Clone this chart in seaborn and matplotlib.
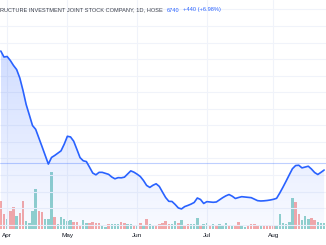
import numpy as np
import pandas as pd
import matplotlib
matplotlib.use("Agg")
import matplotlib.pyplot as plt
import seaborn as sns
from matplotlib.patches import Polygon
from matplotlib.colors import to_rgba

# ---------------- data ----------------
close = [13490, 13130, 13160, 12920, 12620, 12370, 11860, 11110, 10260, 9630,
         8990, 8760, 8240, 7720, 7190, 6660, 7060, 7180, 7320, 7460,
         7860, 8340, 8300, 8040, 7550, 7050, 6860, 6810, 6470, 6120,
         6010, 6160, 6160, 6100, 6040, 5880, 5770, 5840, 5830, 5870,
         6060, 6250, 6170, 6050, 5910, 5670, 5370, 5250, 5380, 5470,
         5310, 4970, 4640, 4410, 4400, 4220, 4010, 3950, 4090, 4160,
         4240, 4340, 4610, 4520, 4280, 4390, 4370, 4350, 4370, 4500,
         4630, 4740, 4820, 4720, 4580, 4640, 4690, 4670, 4650, 4630,
         4540, 4450, 4430, 4440, 4460, 4490, 4530, 4590, 4910, 5260,
         5630, 6010, 6380, 6570, 6590, 6430, 6480, 6530, 6360, 6150,
         6030, 6160, 6300]

volume = [560000, 294000, 200000, 366000, 434000, 260000, 314000, 560000, 160000, 114000,
          366000, 794000, 366000, 346000, 200000, 200000, 1134000, 246000, 100000, 246000,
          194000, 160000, 180000, 134000, 134000, 66000, 180000, 114000, 114000, 134000,
          126000, 114000, 66000, 46000, 94000, 94000, 94000, 94000, 146000, 114000,
          100000, 94000, 66000, 80000, 114000, 80000, 194000, 100000, 66000, 66000,
          94000, 114000, 166000, 94000, 100000, 160000, 114000, 180000, 60000, 94000,
          94000, 100000, 214000, 80000, 100000, 114000, 66000, 100000, 80000, 100000,
          80000, 114000, 80000, 66000, 80000, 134000, 60000, 46000, 60000, 94000,
          94000, 66000, 80000, 60000, 66000, 66000, 60000, 66000, 294000, 114000,
          94000, 134000, 614000, 534000, 294000, 180000, 260000, 194000, 214000, 180000,
          146000, 126000, 114000]

direction = ["down", "down", "up", "down", "down", "up", "down", "down", "up", "up",
             "up", "up", "down", "down", "up", "up", "up", "down", "up", "up",
             "up", "up", "up", "down", "down", "down", "up", "up", "down", "down",
             "down", "down", "up", "up", "down", "up", "up", "up", "down", "down",
             "up", "up", "down", "up", "down", "up", "down", "up", "up", "down",
             "down", "down", "down", "down", "up", "up", "down", "up", "down", "down",
             "up", "up", "up", "down", "up", "up", "down", "up", "down", "up",
             "up", "up", "down", "up", "down", "down", "up", "up", "down", "down",
             "down", "down", "up", "down", "down", "down", "down", "up", "up", "up",
             "up", "up", "up", "down", "down", "up", "up", "up", "down", "down",
             "up", "up", "up"]

month_pos = [2, 21, 43, 65, 86]
month_labels = ["Apr", "May", "Jun", "Jul", "Aug"]

title_text = "RUCTURE INVESTMENT JOINT STOCK COMPANY, 1D, HOSE"
last_price = 6740
change = 440
change_pct = 6.98

# ---------------- styling ----------------
sns.set_theme(style="white")
plt.rcParams["font.family"] = ["Liberation Sans", "DejaVu Sans"]

LINE = "#2962FF"
UP = "#92D2CC"
DOWN = "#F7A9A7"
GRID = "#F0F3FA"
TEXT = "#131722"

df = pd.DataFrame({"idx": np.arange(len(close)), "close": close,
                   "volume": volume, "dir": direction})

W, H = 326, 245
fig = plt.figure(figsize=(W / 100, H / 100), dpi=100)
fig.patch.set_facecolor("white")
ax = fig.add_axes([0, 16 / H, 1, 229 / H])
ax2 = ax.twinx()

px_per_bar = 3.17
x_left = -0.8 / px_per_bar
x_right = x_left + W / px_per_bar
ymin, ymax = 2737, 16574
vmax = 229 * 20000

# volume bars
sns.barplot(data=df, x="idx", y="volume", hue="dir",
            palette={"up": UP, "down": DOWN}, native_scale=True,
            dodge=False, width=0.78, legend=False, saturation=1,
            linewidth=0, ax=ax2)
ax2.set_ylim(0, vmax)
ax2.set_xlim(x_left, x_right)
ax2.axis("off")

# price area with gradient
ax.set_zorder(ax2.get_zorder() + 1)
ax.patch.set_visible(False)
xs = df["idx"].to_numpy()
ys = df["close"].to_numpy()
verts = [(xs[0], ymin)] + list(zip(xs, ys)) + [(xs[-1], ymin)]
poly = Polygon(verts, closed=True, facecolor="none", edgecolor="none")
ax.add_patch(poly)
g = np.linspace(1, 0, 256).reshape(-1, 1)
rgba = np.zeros((256, 1, 4))
rgba[..., :3] = to_rgba(LINE)[:3]
rgba[..., 3] = 0.03 + 0.24 * g
im = ax.imshow(rgba, extent=[xs[0], xs[-1], ymin, ymax], aspect="auto",
               origin="upper", zorder=1)
im.set_clip_path(poly)

sns.lineplot(data=df, x="idx", y="close", ax=ax, color=LINE, lw=1.2, zorder=3)
ax.axhline(last_price, color=LINE, alpha=0.3, lw=0.8, zorder=2)

ax.set_xlim(x_left, x_right)
ax.set_ylim(ymin, ymax)
ax.set_yticks(np.arange(3000, 17000, 1000))
ax.set_xticks(month_pos, month_labels)
ax.grid(True, color=GRID, lw=0.8)
ax.set_axisbelow(True)
ax.tick_params(axis="y", left=False, right=False, labelleft=False)
ax.tick_params(axis="x", length=0, pad=3, labelsize=4.6, labelcolor=TEXT)
ax.set_xlabel("")
ax.set_ylabel("")
for s in ax.spines.values():
    s.set_visible(False)

# legend line on top
ty = 1 - 10 / H
fs = 4.1
t1 = fig.text(0.0, ty, title_text, ha="left", va="center", fontsize=fs, color="#3B3F4A")
fig.canvas.draw()
r = fig.canvas.get_renderer()
x1 = t1.get_window_extent(r).x1 + 4
t2 = fig.text(x1 / W, ty, f"{last_price}", ha="left", va="center", fontsize=fs, color=LINE)
x2 = t2.get_window_extent(r).x1 + 4
fig.text(x2 / W, ty, f"+{change} (+{change_pct:.2f}%)", ha="left", va="center",
         fontsize=fs, color=LINE)

fig.savefig("out.png", dpi=100, facecolor="white")
